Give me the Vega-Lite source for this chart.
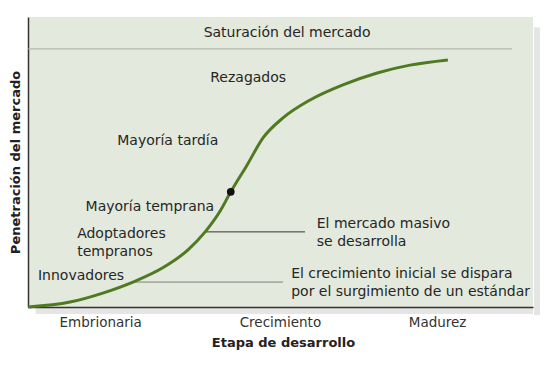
{
  "$schema": "https://vega.github.io/schema/vega-lite/v6.json",
  "width": 505,
  "height": 290,
  "autosize": {"type": "none"},
  "padding": {"left": 28, "top": 17, "right": 22, "bottom": 62},
  "background": "white",
  "config": {
    "view": {"fill": "#e3e9dc", "stroke": null},
    "font": "DejaVu Sans",
    "text": {"font": "DejaVu Sans", "fontSize": 14, "color": "#262626"}
  },
  "datasets": {
    "curve": [
      {"x": 0, "y": 0}, {"x": 8.2, "y": 1.7}, {"x": 14.6, "y": 4.8}, {"x": 20.5, "y": 8.6},
      {"x": 26.4, "y": 13.6}, {"x": 31.25, "y": 19.7}, {"x": 34.6, "y": 25.9}, {"x": 37.5, "y": 33.0},
      {"x": 39.6, "y": 39.7}, {"x": 42.8, "y": 49.0}, {"x": 45.9, "y": 58.3}, {"x": 49.8, "y": 65.2},
      {"x": 55.1, "y": 71.4}, {"x": 61.5, "y": 76.6}, {"x": 68.2, "y": 80.7}, {"x": 74.6, "y": 83.4},
      {"x": 82.0, "y": 85.2}
    ],
    "leaders": [
      {"x": 0, "x2": 94.5, "y": 89.0, "c": "sat"},
      {"x": 20.5, "x2": 49.8, "y": 8.6, "c": "low"},
      {"x": 34.6, "x2": 54.1, "y": 25.9, "c": "mid"}
    ],
    "edges": [
      {"x": 98.63, "y": 96.5, "y2": -2.8, "side": "right"},
      {"x": 1.5, "x2": 98.63, "y": 0, "side": "bottom"}
    ],
    "labelsCenter": [
      {"x": 50.6, "y": 94.5, "t": "Saturación del mercado"},
      {"x": 43.0, "y": 79.0, "t": "Rezagados"},
      {"x": 27.3, "y": 57.2, "t": "Mayoría tardía"},
      {"x": 23.8, "y": 34.5, "t": "Mayoría temprana"}
    ],
    "labelsLeft": [
      {"x": 9.6, "y": 25.2, "t": "Adoptadores"},
      {"x": 9.6, "y": 19.0, "t": "tempranos"},
      {"x": 1.95, "y": 10.7, "t": "Innovadores"},
      {"x": 56.4, "y": 28.6, "t": "El mercado masivo"},
      {"x": 56.4, "y": 22.4, "t": "se desarrolla"},
      {"x": 51.4, "y": 11.4, "t": "El crecimiento inicial se dispara"},
      {"x": 51.4, "y": 5.2, "t": "por el surgimiento de un estándar"}
    ],
    "dot": [{"x": 39.6, "y": 39.7}]
  },
  "layer": [
    {
      "data": {"name": "edges"},
      "transform": [{"filter": "datum.side == 'right'"}],
      "mark": {"type": "rule", "strokeWidth": 6, "color": "#000", "opacity": 0.1, "xOffset": 4},
      "encoding": {
        "x": {"field": "x", "type": "quantitative"},
        "y": {"field": "y", "type": "quantitative"},
        "y2": {"field": "y2"}
      }
    },
    {
      "data": {"name": "edges"},
      "transform": [{"filter": "datum.side == 'bottom'"}],
      "mark": {"type": "rule", "strokeWidth": 6, "color": "#000", "opacity": 0.1, "yOffset": 4},
      "encoding": {
        "x": {"field": "x", "type": "quantitative"},
        "x2": {"field": "x2"},
        "y": {"field": "y", "type": "quantitative"}
      }
    },
    {
      "data": {"name": "leaders"},
      "mark": {"type": "rule", "strokeWidth": 1},
      "encoding": {
        "x": {"field": "x", "type": "quantitative", "scale": {"domain": [0, 98.63], "nice": false},
          "axis": {"values": [14.1, 49.2, 79.9], "labelExpr": "datum.value < 30 ? 'Embrionaria' : datum.value < 60 ? 'Crecimiento' : 'Madurez'",
            "ticks": false, "grid": false, "domainColor": "#333", "domainWidth": 1.5, "labelFontSize": 13.5, "labelColor": "#333",
            "labelPadding": 8, "labelFont": "DejaVu Sans",
            "title": "Etapa de desarrollo", "titleFontSize": 13, "titleFontWeight": "bold", "titleColor": "#222", "titlePadding": 8, "titleFont": "DejaVu Sans", "titleX": 255}},
        "x2": {"field": "x2"},
        "y": {"field": "y", "type": "quantitative", "scale": {"domain": [0, 100], "nice": false},
          "axis": {"labels": false, "ticks": false, "grid": false, "domainColor": "#333", "domainWidth": 1.5,
            "title": "Penetración del mercado", "titleFontSize": 13, "titleFontWeight": "bold", "titleColor": "#222", "titlePadding": 6, "titleFont": "DejaVu Sans"}},
        "color": {"field": "c", "type": "nominal", "scale": {"domain": ["sat", "low", "mid"], "range": ["#a9ada5", "#7d7f7a", "#333333"]}, "legend": null}
      }
    },
    {
      "data": {"name": "curve"},
      "mark": {"type": "line", "interpolate": "monotone", "color": "#4f7a22", "strokeWidth": 3},
      "encoding": {
        "x": {"field": "x", "type": "quantitative"},
        "y": {"field": "y", "type": "quantitative"}
      }
    },
    {
      "data": {"name": "dot"},
      "mark": {"type": "point", "filled": true, "color": "#111", "size": 60, "opacity": 1},
      "encoding": {
        "x": {"field": "x", "type": "quantitative"},
        "y": {"field": "y", "type": "quantitative"}
      }
    },
    {
      "data": {"name": "labelsCenter"},
      "mark": {"type": "text", "align": "center", "baseline": "middle"},
      "encoding": {
        "x": {"field": "x", "type": "quantitative"},
        "y": {"field": "y", "type": "quantitative"},
        "text": {"field": "t"}
      }
    },
    {
      "data": {"name": "labelsLeft"},
      "mark": {"type": "text", "align": "left", "baseline": "middle"},
      "encoding": {
        "x": {"field": "x", "type": "quantitative"},
        "y": {"field": "y", "type": "quantitative"},
        "text": {"field": "t"}
      }
    }
  ]
}
